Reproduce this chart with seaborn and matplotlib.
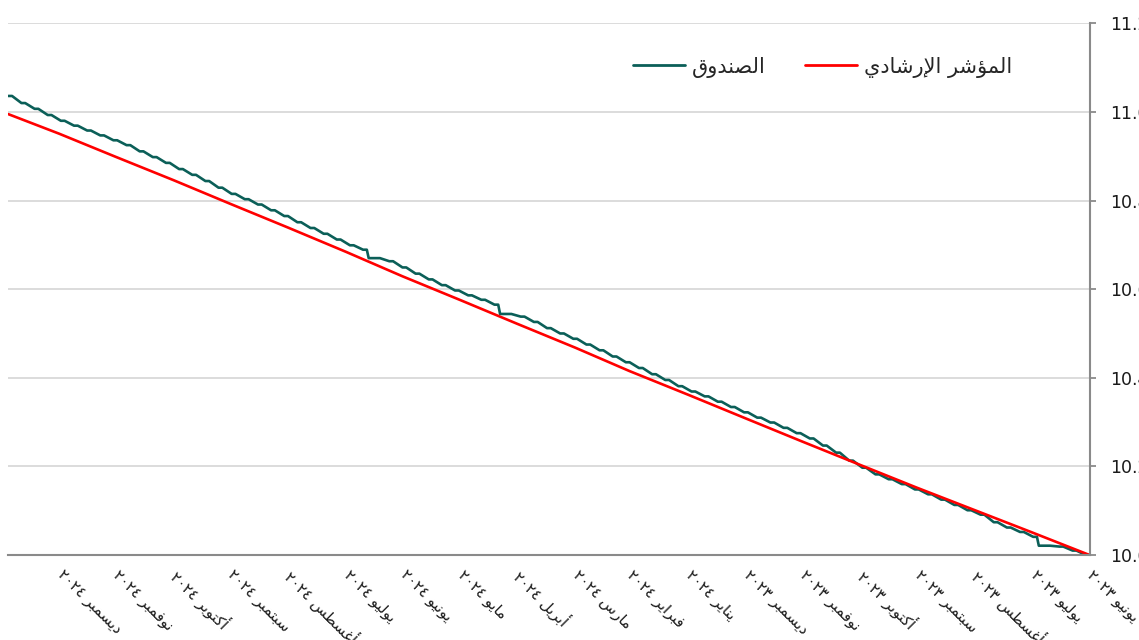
import numpy as np
import pandas as pd
import matplotlib
matplotlib.use("Agg")
import matplotlib.pyplot as plt
import seaborn as sns

# fund: weekly (Thursday) values
fund_dates = pd.date_range("2023-06-01", periods=83, freq="7D")
fund_values = [
    10.000, 10.010, 10.019, 10.021, 10.041, 10.052, 10.062, 10.074, 10.091, 10.101,
    10.113, 10.125, 10.137, 10.148, 10.160, 10.171, 10.182, 10.197, 10.213, 10.231,
    10.247, 10.263, 10.275, 10.287, 10.299, 10.310, 10.322, 10.334, 10.346, 10.358,
    10.369, 10.381, 10.395, 10.408, 10.422, 10.435, 10.448, 10.462, 10.475, 10.488,
    10.500, 10.512, 10.526, 10.538, 10.544, 10.565, 10.576, 10.586, 10.597, 10.609,
    10.622, 10.635, 10.649, 10.663, 10.670, 10.689, 10.699, 10.712, 10.725, 10.738,
    10.751, 10.765, 10.778, 10.791, 10.803, 10.815, 10.829, 10.844, 10.858, 10.871,
    10.885, 10.898, 10.911, 10.925, 10.936, 10.947, 10.958, 10.969, 10.980, 10.993,
    11.007, 11.020, 11.036,
]
# last day before the jump after each holiday break (value held flat)
holiday_dates = ["2023-06-28", "2024-04-10", "2024-06-19"]
holiday_values = [10.021, 10.544, 10.670]

# benchmark: month starts + last day
bench_dates = list(pd.date_range("2023-06-01", "2024-12-01", freq="MS")) + [pd.Timestamp("2024-12-28")]
bench_values = [
    10.000, 10.050, 10.101, 10.152, 10.203, 10.256, 10.308, 10.362, 10.415, 10.468,
    10.522, 10.575, 10.629, 10.684, 10.739, 10.793, 10.846, 10.899, 10.951, 10.995,
]

month_names = ["يناير", "فبراير", "مارس", "أبريل", "مايو", "يونيو",
               "يوليو", "أغسطس", "سبتمبر", "أكتوبر", "نوفمبر", "ديسمبر"]
fund_label = "الصندوق"
bench_label = "المؤشر الإرشادي"

# matplotlib has no arabic shaping, so map letters to presentation forms by hand
DUAL = {"ب": 0xFE8F, "ت": 0xFE95, "س": 0xFEB1, "ش": 0xFEB5, "ص": 0xFEB9, "ط": 0xFEC1,
        "غ": 0xFECD, "ف": 0xFED1, "ق": 0xFED5, "ك": 0xFED9, "ل": 0xFEDD, "م": 0xFEE1,
        "ن": 0xFEE5, "ي": 0xFEF1}
RIGHT = {"ا": 0xFE8D, "أ": 0xFE83, "إ": 0xFE87, "ؤ": 0xFE85, "د": 0xFEA9, "ر": 0xFEAD, "و": 0xFEED}
LAM_ALEF = {"ا": 0xFEFB, "أ": 0xFEF7, "إ": 0xFEF9}


def shape(text):
    out = []
    prev_joins = False
    i = 0
    while i < len(text):
        ch = text[i]
        nxt = text[i + 1] if i + 1 < len(text) else ""
        if ch == "ل" and nxt in LAM_ALEF:
            out.append(chr(LAM_ALEF[nxt] + (1 if prev_joins else 0)))
            prev_joins = False
            i += 2
            continue
        if ch in DUAL:
            next_ok = nxt in DUAL or nxt in RIGHT
            if prev_joins and next_ok:
                form = 3
            elif prev_joins:
                form = 1
            elif next_ok:
                form = 2
            else:
                form = 0
            out.append(chr(DUAL[ch] + form))
            prev_joins = next_ok
        elif ch in RIGHT:
            out.append(chr(RIGHT[ch] + (1 if prev_joins else 0)))
            prev_joins = False
        else:
            out.append(ch)
            prev_joins = False
        i += 1
    return "".join(reversed(out))


ar_digits = str.maketrans("0123456789", "٠١٢٣٤٥٦٧٨٩")

weekly = pd.DataFrame({"date": fund_dates, "value": fund_values})
# no NAV over the weekend: hold Thursday's value to Saturday
weekend = weekly.assign(date=weekly["date"] + pd.Timedelta(days=2))
extra = pd.DataFrame({"date": pd.to_datetime(holiday_dates), "value": holiday_values})
fund = pd.concat([weekly, weekend, extra]).sort_values("date").reset_index(drop=True)
bench = pd.DataFrame({"date": bench_dates, "value": bench_values})

sns.set_style("white")
plt.rcParams["font.family"] = ["DejaVu Sans"]

fig, ax = plt.subplots(figsize=(11.39, 6.4), dpi=100)
fig.subplots_adjust(left=8.3 / 1139, right=1089.5 / 1139, bottom=85 / 640, top=616.7 / 640)

teal = "#0b5f58"
red = "#ff0000"
sns.lineplot(data=fund, x="date", y="value", ax=ax, color=teal, linewidth=1.9, estimator=None)
sns.lineplot(data=bench, x="date", y="value", ax=ax, color=red, linewidth=1.9, estimator=None)

ax.set_xlim(pd.Timestamp("2024-12-28"), pd.Timestamp("2023-06-01"))
ax.set_ylim(10.0, 11.2)
ax.set_yticks(np.arange(10.0, 11.21, 0.2))
ax.yaxis.set_major_formatter("{x:.1f}")
ax.yaxis.tick_right()
ax.yaxis.grid(True, color="#d9d9d9", linewidth=1.3)
ax.xaxis.grid(False)
ax.set_xlabel("")
ax.set_ylabel("")

tick_dates = pd.date_range("2023-06-01", "2024-12-01", freq="MS")
tick_labels = [str(d.year).translate(ar_digits) + " " + shape(month_names[d.month - 1]) for d in tick_dates]
ax.set_xticks(tick_dates)
ax.set_xticklabels(tick_labels, rotation=-45, ha="left", va="center", rotation_mode="anchor", fontsize=11)

for side in ["left", "top"]:
    ax.spines[side].set_visible(False)
for side in ["bottom", "right"]:
    ax.spines[side].set_color("#8a8a8a")
    ax.spines[side].set_linewidth(1.5)
ax.tick_params(axis="both", direction="out", length=4.5, width=1.3, color="#8a8a8a", colors="#1a1a1a")
ax.tick_params(axis="y", labelsize=12.5, pad=10)
ax.tick_params(axis="x", pad=8.5)

handles = [plt.Line2D([], [], color=teal, linewidth=2), plt.Line2D([], [], color=red, linewidth=2)]
ax.legend(handles, [shape(fund_label), shape(bench_label)], ncol=2, frameon=False,
          loc="center left", bbox_to_anchor=(633 / 1139, 1 - 67 / 640), bbox_transform=fig.transFigure,
          fontsize=15, handlelength=2.5, handletextpad=0.34, columnspacing=1.85, borderpad=0,
          borderaxespad=0)

fig.savefig("out.png", dpi=100)
